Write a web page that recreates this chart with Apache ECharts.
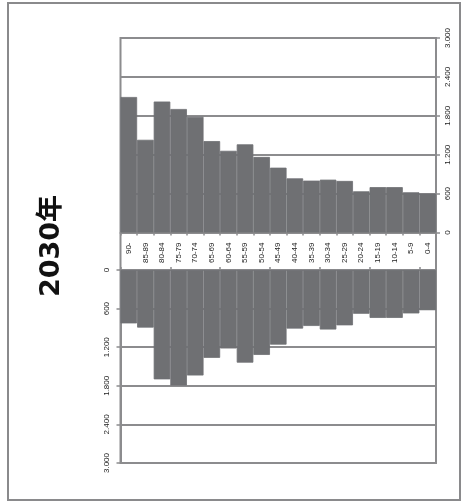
<!DOCTYPE html>
<html><head><meta charset="utf-8">
<script src="https://cdn.jsdelivr.net/npm/echarts@6/dist/echarts.min.js"></script>
<style>html,body{margin:0;padding:0;background:#fff}#c{width:462px;height:504px}</style>
</head><body><div id="c"></div>
<script>
const title = '2030年';
const categories = ['90-','85-89','80-84','75-79','70-74','65-69','60-64','55-59','50-54','45-49','40-44','35-39','30-34','25-29','20-24','15-19','10-14','5-9','0-4'];
const upperValues = [2090,1430,2020,1905,1785,1410,1260,1360,1165,1000,835,800,815,795,635,700,700,620,600];
const lowerValues = [830,895,1700,1795,1640,1365,1220,1440,1320,1160,910,870,925,860,680,745,745,675,625];
const valueTicks = [0,600,1200,1800,2400,3000];

const gray = '#8c8c8e';
const barColor = '#6f7073';
const fmt = v => v >= 1000 ? (v/1000).toFixed(3) : String(v);
const fontFam = 'Liberation Sans, Arial, sans-serif';

const chart = echarts.init(document.getElementById('c'), null, {renderer:'canvas'});
chart.setOption({
  animation:false,
  backgroundColor:'#fff',
  graphic:[
    {type:'rect', shape:{x:8,y:3,width:452,height:497}, style:{fill:'none', stroke:'#8a8a8c', lineWidth:2}},
    {type:'rect', shape:{x:120.5,y:38,width:315.5,height:425}, style:{fill:'none', stroke:gray, lineWidth:2}},
    {type:'text', x:52, y:246, rotation:Math.PI/2,
     style:{text:title, font:'bold 27px "DejaVu Sans", "Noto Sans CJK SC", sans-serif', fill:'#111', align:'center', verticalAlign:'middle'}}
  ],
  grid:[
    {left:120.5, right:26, top:38, height:194.5, show:false},
    {left:120.5, right:26, top:270, height:193, show:false}
  ],
  xAxis:[
    {gridIndex:0, type:'category', data:categories, position:'bottom',
     axisLine:{show:true, lineStyle:{color:gray, width:2}},
     axisTick:{show:true, inside:false, length:3, lineStyle:{color:gray, width:1.5}},
     axisLabel:{rotate:90, margin:10, fontSize:8, color:'#222', fontFamily:fontFam, interval:0},
     splitLine:{show:false}},
    {gridIndex:1, type:'category', data:categories, position:'top',
     axisLine:{show:true, lineStyle:{color:gray, width:2}},
     axisTick:{show:true, inside:false, length:3, lineStyle:{color:gray, width:1.5}},
     axisLabel:{show:false}, splitLine:{show:false}}
  ],
  yAxis:[
    {gridIndex:0, type:'value', min:0, max:3000, interval:600, position:'right',
     axisLine:{show:true, lineStyle:{color:gray, width:2}},
     axisTick:{show:true, length:4, lineStyle:{color:gray, width:1.5}},
     axisLabel:{rotate:90, margin:8, fontSize:8, color:'#222', fontFamily:fontFam, formatter:fmt},
     splitLine:{show:true, lineStyle:{color:gray, width:2}}},
    {gridIndex:1, type:'value', min:0, max:3000, interval:600, position:'left', inverse:true,
     axisLine:{show:true, lineStyle:{color:gray, width:2}},
     axisTick:{show:true, length:4, lineStyle:{color:gray, width:1.5}},
     axisLabel:{rotate:90, margin:10, fontSize:8, color:'#222', fontFamily:fontFam, formatter:fmt},
     splitLine:{show:true, lineStyle:{color:gray, width:2}}}
  ],
  series:[
    {type:'bar', xAxisIndex:0, yAxisIndex:0, data:upperValues, barCategoryGap:'0%',
     itemStyle:{color:barColor, borderColor:barColor, borderWidth:0.8}, z:1},
    {type:'bar', xAxisIndex:1, yAxisIndex:1, data:lowerValues, barCategoryGap:'0%',
     itemStyle:{color:barColor, borderColor:barColor, borderWidth:0.8}, z:1}
  ]
});
</script></body></html>
